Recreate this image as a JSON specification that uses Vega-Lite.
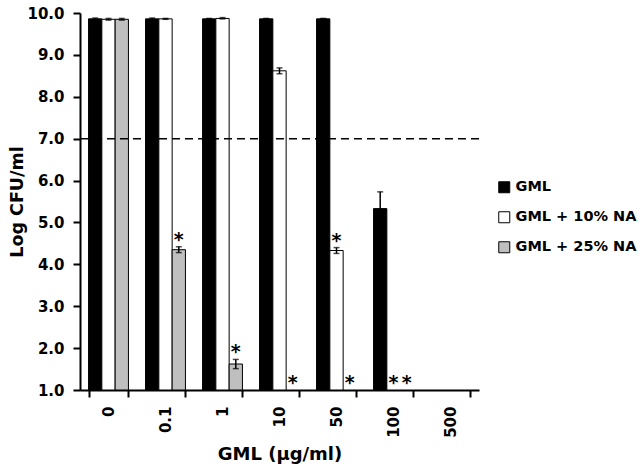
{
  "$schema": "https://vega.github.io/schema/vega-lite/v6.json",
  "width": 399,
  "height": 377,
  "autosize": {"type": "none"},
  "padding": {"left": 80, "top": 13, "right": 163, "bottom": 81},
  "background": "white",
  "config": {
    "view": {"stroke": null},
    "font": "DejaVu Sans",
    "axis": {
      "labelFont": "DejaVu Sans",
      "labelFontWeight": "bold",
      "labelColor": "black",
      "titleFont": "DejaVu Sans",
      "titleFontWeight": "bold",
      "titleColor": "black",
      "domainColor": "black",
      "domainWidth": 2,
      "tickColor": "black",
      "tickWidth": 2,
      "tickSize": 7,
      "grid": false
    },
    "legend": {
      "labelFont": "DejaVu Sans",
      "labelFontWeight": "bold",
      "labelColor": "black"
    }
  },
  "datasets": {
    "bars": [
      {"cat": "0", "series": "GML", "val": 9.86, "lo": 9.84, "hi": 9.88},
      {"cat": "0", "series": "GML + 10% NA", "val": 9.85, "lo": 9.83, "hi": 9.87},
      {"cat": "0", "series": "GML + 25% NA", "val": 9.85, "lo": 9.83, "hi": 9.87},
      {"cat": "0.1", "series": "GML", "val": 9.86, "lo": 9.84, "hi": 9.88},
      {"cat": "0.1", "series": "GML + 10% NA", "val": 9.86, "lo": 9.85, "hi": 9.87},
      {"cat": "0.1", "series": "GML + 25% NA", "val": 4.35, "lo": 4.28, "hi": 4.42},
      {"cat": "1", "series": "GML", "val": 9.86, "lo": 9.85, "hi": 9.87},
      {"cat": "1", "series": "GML + 10% NA", "val": 9.87, "lo": 9.86, "hi": 9.89},
      {"cat": "1", "series": "GML + 25% NA", "val": 1.62, "lo": 1.51, "hi": 1.73},
      {"cat": "10", "series": "GML", "val": 9.86, "lo": 9.85, "hi": 9.87},
      {"cat": "10", "series": "GML + 10% NA", "val": 8.62, "lo": 8.55, "hi": 8.69},
      {"cat": "50", "series": "GML", "val": 9.86, "lo": 9.85, "hi": 9.87},
      {"cat": "50", "series": "GML + 10% NA", "val": 4.33, "lo": 4.26, "hi": 4.40},
      {"cat": "100", "series": "GML", "val": 5.33, "lo": 4.93, "hi": 5.73}
    ],
    "stars": [
      {"cat": "0.1", "series": "GML + 25% NA", "pos": 4.42},
      {"cat": "1", "series": "GML + 25% NA", "pos": 1.73},
      {"cat": "10", "series": "GML + 25% NA", "pos": 1.0},
      {"cat": "50", "series": "GML + 10% NA", "pos": 4.40},
      {"cat": "50", "series": "GML + 25% NA", "pos": 1.0},
      {"cat": "100", "series": "GML + 10% NA", "pos": 1.0},
      {"cat": "100", "series": "GML + 25% NA", "pos": 1.0}
    ]
  },
  "encoding": {
    "x": {
      "field": "cat",
      "type": "nominal",
      "sort": null,
      "scale": {"domain": ["0", "0.1", "1", "10", "50", "100", "500"], "paddingInner": 0.3, "paddingOuter": 0.15},
      "axis": {
        "title": "GML (μg/ml)",
        "titleFontSize": 18,
        "titlePadding": 8,
        "labelAngle": -90,
        "labelFontSize": 15,
        "labelPadding": 9,
        "tickBand": "extent"
      }
    },
    "xOffset": {
      "field": "series",
      "type": "nominal",
      "scale": {"domain": ["GML", "GML + 10% NA", "GML + 25% NA"], "paddingInner": 0, "paddingOuter": 0}
    }
  },
  "layer": [
    {
      "data": {"name": "bars"},
      "mark": {"type": "bar", "stroke": "black", "strokeWidth": 1},
      "encoding": {
        "y": {
          "field": "val",
          "type": "quantitative",
          "scale": {"domain": [1, 10], "zero": false, "nice": false},
          "axis": {
            "title": "Log CFU/ml",
            "titleFontSize": 17.5,
            "titlePadding": 0,
            "format": ".1f",
            "values": [1, 2, 3, 4, 5, 6, 7, 8, 9, 10],
            "labelFontSize": 15,
            "labelPadding": 9
          }
        },
        "y2": {"datum": 1},
        "fill": {
          "field": "series",
          "type": "nominal",
          "scale": {"domain": ["GML", "GML + 10% NA", "GML + 25% NA"], "range": ["#000000", "#ffffff", "#bfbfbf"]},
          "legend": {
            "title": null,
            "orient": "none",
            "legendX": 417,
            "legendY": 167,
            "symbolType": "square",
            "symbolSize": 121,
            "symbolStrokeColor": "black",
            "symbolStrokeWidth": 1,
            "labelFontSize": 14.5,
            "labelOffset": 4,
            "rowPadding": 14
          }
        }
      }
    },
    {
      "data": {"name": "bars"},
      "mark": {"type": "rule", "color": "black", "strokeWidth": 1.5},
      "encoding": {
        "y": {"field": "lo", "type": "quantitative"},
        "y2": {"field": "hi"}
      }
    },
    {
      "data": {"name": "bars"},
      "mark": {"type": "tick", "color": "black", "size": 6, "thickness": 1.5, "orient": "horizontal"},
      "encoding": {
        "y": {"field": "hi", "type": "quantitative"}
      }
    },
    {
      "data": {"name": "bars"},
      "mark": {"type": "tick", "color": "black", "size": 6, "thickness": 1.5, "orient": "horizontal"},
      "encoding": {
        "y": {"field": "lo", "type": "quantitative"}
      }
    },
    {
      "data": {"values": [{"t": 7}]},
      "mark": {"type": "rule", "color": "black", "strokeWidth": 1.5, "strokeDash": [8, 5]},
      "encoding": {
        "y": {"field": "t", "type": "quantitative"},
        "x": null,
        "xOffset": null
      }
    },
    {
      "data": {"name": "stars"},
      "mark": {"type": "text", "text": "*", "fontSize": 19, "font": "DejaVu Sans", "fontWeight": "bold", "baseline": "alphabetic", "dy": -1, "color": "black"},
      "encoding": {
        "y": {"field": "pos", "type": "quantitative"}
      }
    }
  ]
}
